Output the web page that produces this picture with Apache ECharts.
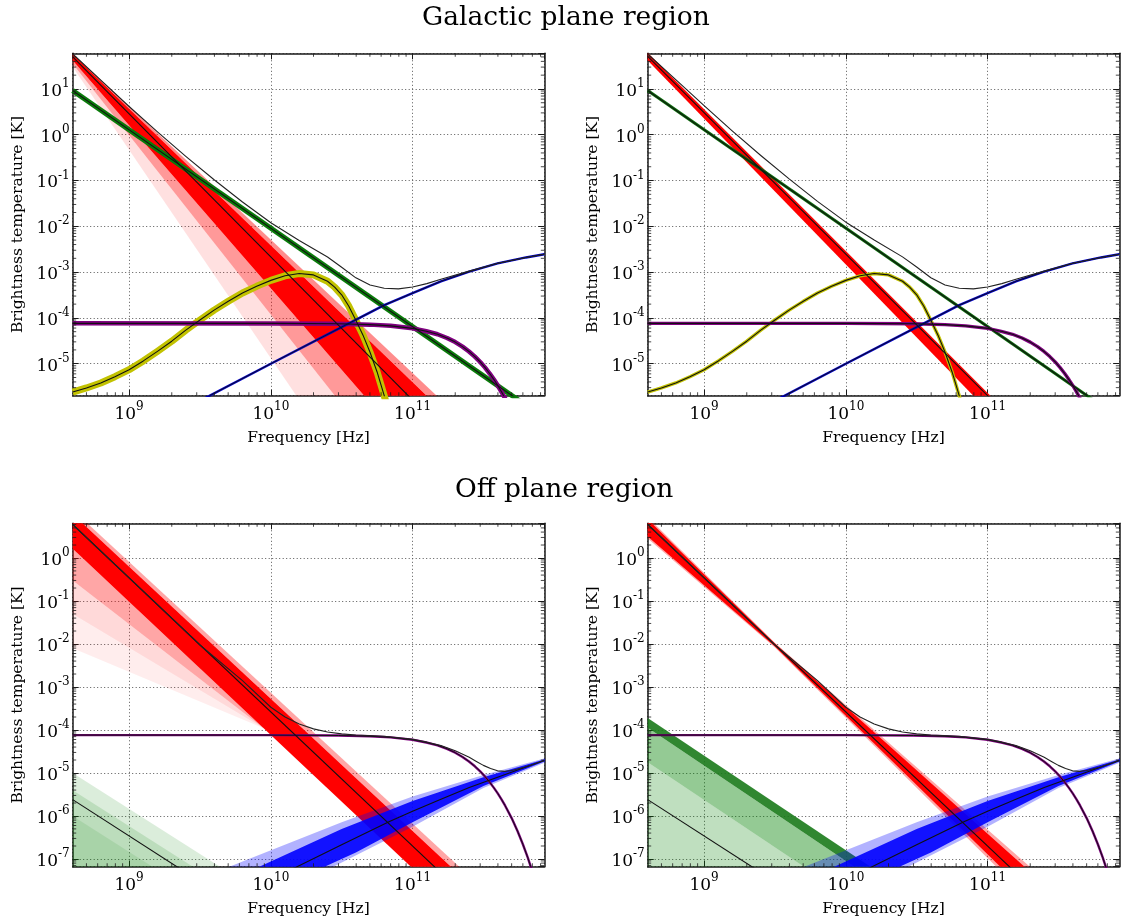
<!DOCTYPE html>
<html><head><meta charset="utf-8">
<script src="https://cdn.jsdelivr.net/npm/echarts@6/dist/echarts.min.js"></script>
<style>html,body{margin:0;padding:0;background:#fff}#c{width:1124px;height:922px}</style>
</head><body><div id="c"></div>
<script>
// ---------- text / ticks ----------
const titles = ['Galactic plane region', 'Off plane region'];
const xName = 'Frequency [Hz]';
const yName = 'Brightness temperature [K]';
const xTickExps = [9, 10, 11];
const yTickExpsTop = [-5, -4, -3, -2, -1, 0, 1];
const yTickExpsBottom = [-7, -6, -5, -4, -3, -2, -1, 0];
const minorMult = [2, 3, 4, 5, 6, 7, 8, 9];
const xRange = [4e8, 8.5e11];
const yRangeTop = [2e-6, 60];
const yRangeBottom = [6.6e-8, 6.4];

// ---------- top panels (Galactic plane) ----------
const ffTop = [[4e8, 9.2], [8.5e11, 6.5e-7]];
const ameTop = [[4e8,2.4e-6],[5e8,2.95e-6],[6.31e8,3.8e-6],[7.94e8,5.2e-6],[1e9,7.4e-6],[1.26e9,1.15e-5],[1.585e9,1.86e-5],[2e9,3.1e-5],[2.512e9,5.4e-5],[3.16e9,9.0e-5],[3.98e9,1.48e-4],[5.01e9,2.3e-4],[6.31e9,3.5e-4],[7.94e9,4.9e-4],[1e10,6.6e-4],[1.259e10,8.3e-4],[1.585e10,9.3e-4],[2.0e10,8.7e-4],[2.512e10,6.3e-4],[2.82e10,4.7e-4],[3.16e10,3.2e-4],[3.55e10,1.8e-4],[3.98e10,8.9e-5],[4.47e10,4.2e-5],[5.01e10,1.78e-5],[5.62e10,6.6e-6],[6.31e10,2.0e-6],[7.1e10,5e-7]];
const cmbCurve = [[4e8,7.6e-5],[1e10,7.58e-5],[3e10,7.43e-5],[5e10,7.13e-5],[7e10,6.71e-5],[1e11,5.91e-5],[1.25e11,5.1e-5],[1.5e11,4.39e-5],[1.75e11,3.64e-5],[2e11,2.96e-5],[2.25e11,2.36e-5],[2.5e11,1.85e-5],[2.75e11,1.43e-5],[3e11,1.09e-5],[3.25e11,8.2e-6],[3.5e11,6.1e-6],[3.75e11,4.5e-6],[4e11,3.3e-6],[4.25e11,2.4e-6],[4.5e11,1.73e-6],[5e11,8.9e-7],[5.5e11,4.45e-7],[6e11,2.2e-7],[6.5e11,1.07e-7],[7e11,5.1e-8],[7.5e11,2.4e-8]];
const dustTop = [[3.16e9,1.55e-6],[1e10,1.0e-5],[3.16e10,6.3e-5],[6.31e10,1.9e-4],[1e11,3.47e-4],[1.585e11,6.3e-4],[2.51e11,1.02e-3],[3.98e11,1.55e-3],[6.31e11,2.09e-3],[8.5e11,2.45e-3]];
const tlSyncMean = [[4e8, 50], [1.26e11, 7.8e-7]];
const tlSyncFringe = [[4e8,60.3],[2.2e11,6.3e-7],[1.85e11,6.3e-7],[4e8,57.5]];
const tlSyncCore = [[4e8,57.5],[1.85e11,6.3e-7],[6.3e10,6.3e-7],[4e8,41.7]];
const tlSyncMid = [[4e8,41.7],[6.3e10,6.3e-7],[3.8e10,6.3e-7],[4e8,35.5]];
const tlSyncPale = [[4e8,35.5],[3.8e10,6.3e-7],[1.95e10,6.3e-7],[4e8,30.2]];
const tlTotal = [[4e8,58],[6.31e8,15.5],[1e9,4.14],[1.585e9,1.156],[2.512e9,0.338],[3.98e9,0.104],[6.31e9,0.034],[1e10,0.0120],[1.585e10,4.92e-3],[2.512e10,2.13e-3],[3.16e10,1.28e-3],[3.98e10,7.5e-4],[5.01e10,5.21e-4],[6.31e10,4.43e-4],[7.94e10,4.31e-4],[1e11,4.72e-4],[1.26e11,5.6e-4],[1.585e11,6.95e-4],[2.51e11,1.05e-3],[3.98e11,1.556e-3],[6.31e11,2.09e-3],[8.5e11,2.45e-3]];
const trSyncMean = [[4e8, 51.4], [1.26e11, 9.8e-7]];
const trSyncBand = [[4e8,61.7],[1.52e11,6.3e-7],[1.14e11,6.3e-7],[4e8,41.7]];
const trTotal = [[4e8,58],[6.31e8,15.9],[1e9,4.3],[1.585e9,1.20],[2.512e9,0.3525],[3.98e9,0.1083],[6.31e9,0.0351],[1e10,0.01232],[1.585e10,5.01e-3],[2.512e10,2.15e-3],[3.16e10,1.294e-3],[3.98e10,7.55e-4],[5.01e10,5.22e-4],[6.31e10,4.44e-4],[7.94e10,4.31e-4],[1e11,4.72e-4],[1.26e11,5.6e-4],[1.585e11,6.95e-4],[2.51e11,1.05e-3],[3.98e11,1.556e-3],[6.31e11,2.09e-3],[8.5e11,2.45e-3]];

// ---------- bottom panels (Off plane) ----------
const bSyncMean = [[4e8, 6.0], [2.0e11, 2.3e-8]];
const blSyncFringe = [[4e8,13.2],[3.16e11,2e-8],[2.75e11,2e-8],[4e8,10.5]];
const blSyncCore = [[4e8,10.5],[2.75e11,2e-8],[1.43e11,2e-8],[4e8,1.64]];
const blSyncWedge1 = [[4e8,1.64],[8.9e9,1.1e-4],[4e8,0.3]];
const blSyncWedge2 = [[4e8,0.3],[8.9e9,1.1e-4],[4e8,0.05]];
const blSyncWedge3 = [[4e8,0.05],[8.9e9,1.1e-4],[4e8,7.9e-3]];
const brSyncFringe = [[4e8,8.9],[3.16e9,0.0107],[3.0e11,2e-8],[1.66e11,2e-8],[3.16e9,8.3e-3],[4e8,2.82]];
const brSyncCore = [[4e8,7.94],[3.16e9,0.0102],[2.73e11,2e-8],[1.78e11,2e-8],[3.16e9,8.7e-3],[4e8,3.16]];
const bDustMean = [[1.26e10,4.8e-8],[3.16e10,2.14e-7],[6.87e10,7.4e-7],[1e11,1.29e-6],[1.585e11,2.45e-6],[2.51e11,4.57e-6],[3.98e11,7.9e-6],[6.31e11,1.38e-5],[8.5e11,1.95e-5]];
const bDustCore = [[9e11,2.19e-5],[3.16e11,7.9e-6],[1e11,2.24e-6],[3.16e10,5.0e-7],[3.78e9,2e-8],[1.08e10,2e-8],[3.98e10,1.41e-7],[1e11,7.1e-7],[3.16e11,5.0e-6],[9e11,2.0e-5]];
const bDustHalo = [[9e11,2.29e-5],[3.16e11,8.9e-6],[1e11,2.82e-6],[3.16e10,7.1e-7],[2.04e9,2e-8],[1.35e10,2e-8],[1e11,5.6e-7],[3.16e11,4.47e-6],[9e11,1.86e-5]];
const bFFMean = [[4e8, 2.4e-6], [2.5e9, 4.9e-8]];
const blFF1 = [[4e8,1e-5],[7.73e9,2e-8],[4e8,2e-8]];
const blFF2 = [[4e8,3.98e-6],[4.98e9,2e-8],[4e8,2e-8]];
const blFF3 = [[4e8,1e-6],[2.58e9,2e-8],[4e8,2e-8]];
const brFFStripe = [[4e8,1.9e-4],[2.57e10,2e-8],[1.97e10,2e-8],[4e8,1.12e-4]];
const brFFMid = [[4e8,1.12e-4],[1.97e10,2e-8],[8.7e9,2e-8],[4e8,1.78e-5]];
const brFFPale = [[4e8,1.78e-5],[8.7e9,2e-8],[4e8,2e-8]];
const bTotal = [[4e8,6.0],[1e9,0.344],[3.16e9,9.46e-3],[6.31e9,1.4e-3],[1e10,3.37e-4],[1.26e10,2.0e-4],[1.585e10,1.375e-4],[2e10,1.06e-4],[2.51e10,8.97e-5],[3.16e10,8.1e-5],[3.98e10,7.66e-5],[6.31e10,7.15e-5],[1e11,6.05e-5],[1.26e11,5.2e-5],[1.585e11,4.35e-5],[2e11,3.3e-5],[2.51e11,2.31e-5],[2.82e11,1.85e-5],[3.16e11,1.5e-5],[3.55e11,1.27e-5],[3.98e11,1.12e-5],[4.47e11,1.09e-5],[5.01e11,1.14e-5],[6.31e11,1.39e-5],[8.5e11,1.95e-5]];

// ---------- layout ----------
const SERIF = 'DejaVu Serif';
const panels = [
  {left:72.7, top:53.3, width:471.6, height:342.4, y:yRangeTop, exps:yTickExpsTop},
  {left:647.7, top:53.3, width:471.6, height:342.4, y:yRangeTop, exps:yTickExpsTop},
  {left:72.7, top:523.3, width:471.6, height:343.4, y:yRangeBottom, exps:yTickExpsBottom},
  {left:647.7, top:523.3, width:471.6, height:343.4, y:yRangeBottom, exps:yTickExpsBottom}
];
const FRAME = '#1a1a1a';
const rich = {
  b: {fontFamily:SERIF, fontSize:17, color:'#000', lineHeight:22, verticalAlign:'bottom'},
  s: {fontFamily:SERIF, fontSize:12, color:'#000', lineHeight:10, verticalAlign:'top'}
};
function expLabel(v, allowed) {
  const l = Math.log10(v), e = Math.round(l);
  if (Math.abs(l - e) > 1e-6 || allowed.indexOf(e) < 0) return '';
  return '{b|10}{s|' + e + '}';
}
const grid = [], xAxis = [], yAxis = [], series = [];
panels.forEach((p) => {
  grid.push({left:p.left, top:p.top, width:p.width, height:p.height, containLabel:false, outerBoundsMode:'none', show:false});
});
const nameStyle = {fontFamily:SERIF, fontSize:15.5, color:'#000'};
const splitStyle = {show:true, lineStyle:{color:'#555', type:[1,2.5], width:1}};
panels.forEach((p, i) => {
  xAxis.push({type:'log', logBase:10, gridIndex:i, min:xRange[0], max:xRange[1], position:'bottom',
    axisLine:{show:true, onZero:false, lineStyle:{color:FRAME, width:1.5}},
    axisTick:{show:true, inside:true, length:6, lineStyle:{color:FRAME, width:1}},
    axisLabel:{show:true, margin:5, showMinLabel:false, showMaxLabel:false, hideOverlap:false,
      formatter:v => expLabel(v, xTickExps), rich:rich},
    splitLine:splitStyle,
    name:xName, nameLocation:'middle', nameGap:34, nameTextStyle:nameStyle});
  yAxis.push({type:'log', logBase:10, gridIndex:i, min:p.y[0], max:p.y[1], position:'left',
    axisLine:{show:true, onZero:false, lineStyle:{color:FRAME, width:1.5}},
    axisTick:{show:true, inside:true, length:6, lineStyle:{color:FRAME, width:1}},
    axisLabel:{show:true, margin:3, showMinLabel:false, showMaxLabel:false, hideOverlap:false,
      formatter:v => expLabel(v, p.exps), rich:rich},
    splitLine:splitStyle,
    name:yName, nameLocation:'middle', nameRotate:90, nameGap:47, nameTextStyle:nameStyle});
});
panels.forEach((p, i) => {
  xAxis.push({type:'log', logBase:10, gridIndex:i, min:xRange[0], max:xRange[1], position:'top',
    axisLine:{show:true, onZero:false, lineStyle:{color:FRAME, width:1.5}},
    axisTick:{show:true, inside:true, length:6, lineStyle:{color:FRAME, width:1}},
    axisLabel:{show:false}, splitLine:{show:false}});
  yAxis.push({type:'log', logBase:10, gridIndex:i, min:p.y[0], max:p.y[1], position:'right',
    axisLine:{show:true, onZero:false, lineStyle:{color:FRAME, width:1.5}},
    axisTick:{show:true, inside:true, length:6, lineStyle:{color:FRAME, width:1}},
    axisLabel:{show:false}, splitLine:{show:false}});
});

function line(p, data, color, width, z, opacity) {
  return {type:'line', xAxisIndex:p, yAxisIndex:p, data:data, showSymbol:false, symbol:'none',
    smooth:false, clip:true, silent:true, animation:false, z:z,
    lineStyle:{color:color, width:width, opacity:opacity == null ? 1 : opacity, cap:'butt', join:'round'}};
}
function poly(p, verts, color, opacity, z) {
  return {type:'custom', xAxisIndex:p, yAxisIndex:p, data:verts, clip:true, silent:true, animation:false, z:z,
    renderItem:(params, api) => {
      if (params.dataIndex !== 0) return null;
      return {type:'polygon', shape:{points:verts.map(v => api.coord(v))}, style:{fill:color, opacity:opacity}};
    }};
}
function minorVals(lo, hi) {
  const out = [];
  for (let e = Math.floor(Math.log10(lo)); e <= Math.ceil(Math.log10(hi)); e++)
    minorMult.forEach(m => { const v = m * Math.pow(10, e); if (v > lo * 1.0001 && v < hi * 0.9999) out.push(v); });
  return out;
}
function tickSeries(p, data, size, offset) {
  return {type:'scatter', xAxisIndex:p, yAxisIndex:p, data:data, symbol:'rect', symbolSize:size,
    symbolOffset:offset, clip:false, silent:true, animation:false, z:40,
    itemStyle:{color:FRAME}};
}
panels.forEach((p, i) => {
  const xm = minorVals(xRange[0], xRange[1]);
  const ym = minorVals(p.y[0], p.y[1]);
  series.push(tickSeries(i, xm.map(v => [v, p.y[0]]), [1, 3.5], [0, -1.75]));
  series.push(tickSeries(i, xm.map(v => [v, p.y[1]]), [1, 3.5], [0, 1.75]));
  series.push(tickSeries(i, ym.map(v => [xRange[0], v]), [3.5, 1], [1.75, 0]));
  series.push(tickSeries(i, ym.map(v => [xRange[1], v]), [3.5, 1], [-1.75, 0]));
});

const RED = '#ff0000', GREEN = '#008000', YEL = '#c2c200', PURP = '#800080', BLUE = '#0000ff', BLK = '#111';
// Top-left
series.push(poly(0, tlSyncPale, RED, 0.12, 2), poly(0, tlSyncMid, RED, 0.4, 2), poly(0, tlSyncCore, RED, 1, 2), poly(0, tlSyncFringe, RED, 0.45, 2));
series.push(line(0, ffTop, '#0a7a0a', 5, 5), line(0, ameTop, YEL, 7, 6), line(0, cmbCurve, PURP, 4.5, 7), line(0, dustTop, '#0000cc', 2.4, 8));
series.push(line(0, tlSyncMean, BLK, 1.1, 20), line(0, ffTop, BLK, 1.1, 21), line(0, ameTop, BLK, 1.1, 22), line(0, cmbCurve, BLK, 1.1, 23), line(0, dustTop, BLK, 0.9, 24), line(0, tlTotal, '#222', 1.1, 30));
// Top-right
series.push(poly(1, trSyncBand, RED, 1, 2));
series.push(line(1, ffTop, '#0a6a0a', 3, 5), line(1, ameTop, YEL, 3.4, 6), line(1, cmbCurve, PURP, 3.4, 7), line(1, dustTop, '#0000cc', 2.4, 8));
series.push(line(1, trSyncMean, BLK, 1.1, 20), line(1, ffTop, BLK, 1.1, 21), line(1, ameTop, BLK, 1.1, 22), line(1, cmbCurve, BLK, 1.1, 23), line(1, dustTop, BLK, 0.9, 24), line(1, trTotal, '#222', 1.1, 30));
// Bottom-left
series.push(poly(2, blFF1, GREEN, 0.14, 2), poly(2, blFF2, GREEN, 0.14, 2), poly(2, blFF3, GREEN, 0.1, 2));
series.push(poly(2, blSyncWedge3, RED, 0.07, 3), poly(2, blSyncWedge2, RED, 0.15, 3), poly(2, blSyncWedge1, RED, 0.35, 3), poly(2, blSyncFringe, RED, 0.35, 3), poly(2, blSyncCore, RED, 1, 3));
series.push(poly(2, bDustHalo, BLUE, 0.3, 4), poly(2, bDustCore, BLUE, 0.9, 4));
series.push(line(2, cmbCurve, PURP, 2.4, 7));
series.push(line(2, bFFMean, BLK, 1.1, 20), line(2, bSyncMean, BLK, 1.1, 21), line(2, bDustMean, BLK, 1.1, 22), line(2, cmbCurve, BLK, 1, 23), line(2, bTotal, '#222', 1.1, 30));
// Bottom-right
series.push(poly(3, brFFPale, GREEN, 0.25, 2), poly(3, brFFMid, GREEN, 0.42, 2), poly(3, brFFStripe, '#1a7a1a', 0.9, 2));
series.push(poly(3, brSyncFringe, RED, 0.35, 3), poly(3, brSyncCore, RED, 1, 3));
series.push(poly(3, bDustHalo, BLUE, 0.3, 4), poly(3, bDustCore, BLUE, 0.9, 4));
series.push(line(3, cmbCurve, PURP, 2.4, 7));
series.push(line(3, bFFMean, BLK, 1.1, 20), line(3, bSyncMean, BLK, 1.1, 21), line(3, bDustMean, BLK, 1.1, 22), line(3, cmbCurve, BLK, 1, 23), line(3, bTotal, '#222', 1.1, 30));

const chart = echarts.init(document.getElementById('c'), null, {renderer:'canvas'});
chart.setOption({
  backgroundColor:'#fff', animation:false,
  title:[
    {text:titles[0], left:422, top:5, padding:0, textStyle:{fontFamily:SERIF, fontSize:26.5, fontWeight:'normal', color:'#000'}},
    {text:titles[1], left:455, top:477, padding:0, textStyle:{fontFamily:SERIF, fontSize:26.5, fontWeight:'normal', color:'#000'}}
  ],
  grid:grid, xAxis:xAxis, yAxis:yAxis, series:series
});
</script></body></html>
